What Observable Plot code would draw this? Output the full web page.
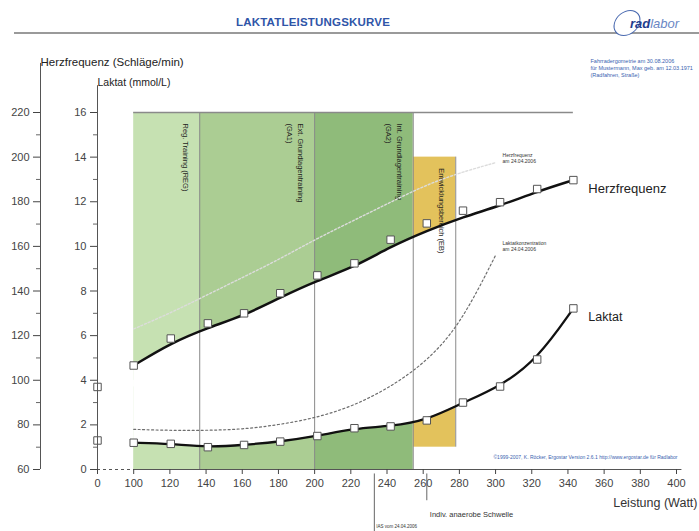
<!DOCTYPE html>
<html>
<head>
<meta charset="utf-8">
<script src="https://cdn.jsdelivr.net/npm/d3@7"></script>
<script src="https://cdn.jsdelivr.net/npm/@observablehq/plot@0.6"></script>
<style>
  body { margin: 0; background: #fff; font-family: "Liberation Sans", Arial, sans-serif; }
  #header { position: relative; width: 699px; height: 40px; }
  #title { position: absolute; left: 0; width: 626px; top: 16px; text-align: center;
           font-size: 11.5px; font-weight: bold; color: #2f55a8; letter-spacing: 0.2px; }
  #rule { position: absolute; left: 14px; right: 0; top: 32px; height: 1.5px; background: #9a9a9a; }
  #logo-ring { position: absolute; left: 614px; top: 10px; width: 24px; height: 24px;
               border: 1.3px solid #4a6ab0; border-radius: 50%; transform: skewX(-15deg); background: #fff; }
  #logo { position: absolute; left: 630px; top: 16px; font-size: 13px; font-style: italic; color: #6a86c4; }
  #logo b { color: #1f3c8c; }
  #chart svg { display: block; }
</style>
</head>
<body>
<div id="header">
  <div id="title">LAKTATLEISTUNGSKURVE</div>
  <div id="rule"></div>
  <div id="logo-ring"></div>
  <div id="logo"><b>rad</b>labor</div>
</div>
<div id="chart"></div>
<script>
// ---- data ----
// current test (30.08.2006)
const watts      = [100, 120.5, 141, 161, 181, 201.5, 222, 242, 262, 282, 302.5, 323, 343];
const heartRate  = [106.6, 118.7, 125.5, 130, 139, 147, 152.4, 163, 170.3, 176, 179.8, 185.7, 189.7];
const lactate    = [1.2, 1.15, 1.0, 1.1, 1.25, 1.5, 1.85, 1.93, 2.2, 3.0, 3.72, 4.93, 7.22];
const restWatt = 0;
const restHeartRate = 97;
const restLactate = 1.3;

// previous test (24.04.2006)
const prevWatts     = [100, 120, 140, 160, 180, 200, 220, 240, 260, 280, 300];
const prevHeartRate = [123, 130, 138, 146, 154, 163, 171, 179, 187, 193, 197.5];
const prevLactate   = [1.8, 1.75, 1.75, 1.8, 2.0, 2.3, 2.8, 3.6, 4.7, 6.4, 9.6];

// training zones
const zoneNames  = ["Reg. Training (REG)", "Ext. Grundlagentraining\n(GA1)", "Int. Grundlagentraining\n(GA2)", "Entwicklungsbereich (EB)"];
const zoneStart  = [100, 136.5, 200, 254.5];
const zoneEnd    = [136.5, 200, 254.5, 278];
const zoneLow    = [0, 0, 0, 1];     // mmol/L
const zoneHigh   = [16, 16, 16, 14]; // mmol/L

// thresholds
const thresholdWatt = [262];      // indiv. anaerobe Schwelle
const prevThresholdWatt = [233];  // IAS vom 24.04.2006

// axes
const wattTicks = [0, 100, 120, 140, 160, 180, 200, 220, 240, 260, 280, 300, 320, 340, 360, 380, 400];
const lactateTicks = [0, 2, 4, 6, 8, 10, 12, 14, 16];
const heartRateTicks = [60, 80, 100, 120, 140, 160, 180, 200, 220];

// ---- helpers: heart-rate axis (60–220) shares the lactate axis (0–16) ----
const toLac = hr => (hr - 60) / 10;
const fromLac = l => 60 + 10 * l;
const pos = w => (w === 0 ? 80 : w); // broken axis: 0 W shown at the 80 slot
const split = 4; // layer split between lower (lactate) and upper (heart-rate) zone parts

// smoothing curve for the heart-rate fit (bundle, made usable for areas too)
function smoothCurve(beta) {
  return context => {
    const c = d3.curveBundle.beta(beta)(context);
    c.areaStart = function () { this._basis._line = 0; };
    c.areaEnd = function () { this._basis._line = NaN; };
    return c;
  };
}
const hrCurve = smoothCurve(0.6);

const current = watts.map((w, i) => ({w, hr: toLac(heartRate[i]), lac: lactate[i]}));
const rest = [{w: pos(restWatt), hr: toLac(restHeartRate), lac: restLactate}];
const previous = prevWatts.map((w, i) => ({w, hr: toLac(prevHeartRate[i]), lac: prevLactate[i]}));
const zones = zoneNames.map((name, i) => ({name, start: zoneStart[i], end: zoneEnd[i], low: zoneLow[i], high: zoneHigh[i]}));

const minor = d3.range(1, 16, 2);
const font = "Liberation Sans, Arial, sans-serif";

const chart = Plot.plot({
  width: 699,
  height: 491,
  marginLeft: 97,
  marginRight: 23,
  marginTop: 72,
  marginBottom: 62,
  style: {fontFamily: font, background: "transparent", overflow: "visible"},
  x: {domain: [80, 400], label: null, axis: null},
  y: {domain: [0, 16], label: null, axis: null},
  color: {domain: zoneNames, range: ["#c6e1b2", "#abcd93", "#8fbb7a", "#e3c25c"]},
  marks: [
    // lower zone parts, cut by the lactate curve
    Plot.rect(zones, {x1: "start", x2: "end", y1: "low", y2: () => split, fill: "name"}),
    Plot.areaY(current, {x: "w", y1: "lac", y2: () => split, fill: "white", curve: "basis"}),
    // upper zone parts, cut by the heart-rate curve
    Plot.rect(zones, {x1: "start", x2: "end", y1: () => split, y2: "high", fill: "name"}),
    Plot.areaY(current, {x: "w", y1: () => split - 0.3, y2: "hr", fill: "white", curve: hrCurve}),
    // zone dividers
    Plot.ruleX(zones, {x: "end", y1: "low", y2: "high", stroke: "#8a8a8a", strokeWidth: 1}),
    // top line of the zone block
    Plot.ruleY([16], {x1: zoneStart[0], x2: d3.max(watts), stroke: "#8a8a8a", strokeWidth: 1.5}),
    // zone labels
    Plot.text(zones, {x: "end", y: "high", text: "name", rotate: 90, textAnchor: "start", lineAnchor: "top",
      dx: -9, dy: 11, fontSize: 7.5, lineHeight: 1.45, fill: "#1e1e1e"}),
    // previous test curves (dotted)
    Plot.line(previous, {x: "w", y: "hr", curve: "basis", stroke: "#dcdcdc", strokeWidth: 1.4, strokeDasharray: "2,2"}),
    Plot.line(previous, {x: "w", y: "lac", curve: "basis", stroke: "#6e6e6e", strokeWidth: 1.2, strokeDasharray: "2,2.5"}),
    Plot.text(previous, Plot.selectLast({x: "w", y: "hr", text: () => "Herzfrequenz\nam 24.04.2006",
      dx: 7, dy: -5, textAnchor: "start", fontSize: 5, lineHeight: 1.2, fill: "#333"})),
    Plot.text(previous, Plot.selectLast({x: "w", y: "lac", text: () => "Laktatkonzentration\nam 24.04.2006",
      dx: 7, dy: -9, textAnchor: "start", fontSize: 5, lineHeight: 1.2, fill: "#333"})),
    // current test curves
    Plot.line(current, {x: "w", y: "hr", stroke: "#111", strokeWidth: 2.5, curve: hrCurve}),
    Plot.line(current, {x: "w", y: "lac", curve: "basis", stroke: "#111", strokeWidth: 2.3}),
    Plot.dot(current, {x: "w", y: "hr", symbol: "square", r: 4.2, fill: "white", stroke: "#555", strokeWidth: 1}),
    Plot.dot(current, {x: "w", y: "lac", symbol: "square", r: 4.2, fill: "white", stroke: "#555", strokeWidth: 1}),
    Plot.dot(rest, {x: "w", y: "hr", symbol: "square", r: 4.2, fill: "white", stroke: "#555", strokeWidth: 1}),
    Plot.dot(rest, {x: "w", y: "lac", symbol: "square", r: 4.2, fill: "white", stroke: "#555", strokeWidth: 1}),
    Plot.text(current, Plot.selectLast({x: "w", y: "hr", text: () => "Herzfrequenz", dx: 15, dy: 9,
      textAnchor: "start", fontSize: 13, fill: "#222"})),
    Plot.text(current, Plot.selectLast({x: "w", y: "lac", text: () => "Laktat", dx: 15, dy: 9,
      textAnchor: "start", fontSize: 12.5, fill: "#222"})),

    // x axis
    Plot.ruleY([0], {x1: pos(wattTicks[0]), x2: wattTicks[1], stroke: "#555", strokeDasharray: "3,3"}),
    Plot.ruleY([0], {x1: wattTicks[1], x2: d3.max(wattTicks) + 3, stroke: "#555"}),
    Plot.axisX({ticks: wattTicks.map(pos), tickFormat: d => (d === 80 ? "0" : String(d)), tickSize: 5,
      tickPadding: 5, fontSize: 11, color: "#444", label: null}),
    Plot.text(["Leistung (Watt)"], {frameAnchor: "bottom-right", dx: 21, dy: 37, textAnchor: "end",
      fontSize: 12.5, fill: "#333"}),

    // lactate axis (inner)
    Plot.ruleX([pos(0)], {y1: 0, y2: 17.2, stroke: "#555"}),
    Plot.axisY({ticks: lactateTicks, tickSize: 7, tickPadding: 4, fontSize: 11, color: "#444", label: null}),
    Plot.axisY({ticks: minor, tickSize: 4, tickFormat: () => "", color: "#666", label: null}),
    Plot.text(["Laktat (mmol/L)"], {frameAnchor: "top-left", dx: 0, dy: -34, textAnchor: "start",
      fontSize: 10.5, fill: "#222"}),

    // heart-rate axis (outer)
    Plot.ruleX([pos(0)], {y1: 0, y2: 18.2, dx: -57, stroke: "#555"}),
    Plot.axisY({ticks: heartRateTicks.map(toLac), tickFormat: d => String(Math.round(fromLac(d))), dx: -57,
      tickSize: 7, tickPadding: 4, fontSize: 11, color: "#444", label: null}),
    Plot.axisY({ticks: minor, tickSize: 4, tickFormat: () => "", dx: -57, color: "#666", label: null}),
    Plot.text(["Herzfrequenz (Schläge/min)"], {frameAnchor: "top-left", dx: -57, dy: -55, textAnchor: "start",
      fontSize: 11.5, fill: "#222"}),

    // thresholds below the axis
    Plot.ruleX(thresholdWatt, {y1: -0.2, y2: -1.4, stroke: "#666"}),
    Plot.text(thresholdWatt, {x: d => d, frameAnchor: "bottom", dx: 3, dy: 47, textAnchor: "start",
      text: () => "Indiv. anaerobe Schwelle", fontSize: 7.5, fill: "#333"}),
    Plot.ruleX(prevThresholdWatt, {y1: -0.2, y2: -2.8, stroke: "#666"}),
    Plot.text(prevThresholdWatt, {x: d => d, frameAnchor: "bottom", dx: 2, dy: 58, textAnchor: "start",
      text: () => "IAS vom 24.04.2006", fontSize: 4.5, fill: "#333"}),

    // info texts
    Plot.text(["Fahrradergometrie am 30.08.2006\nfür Mustermann, Max geb. am 12.03.1971\n(Radfahren, Straße)"],
      {frameAnchor: "top-right", dx: -86, dy: -55, textAnchor: "start", lineAnchor: "top", fontSize: 5.5,
       lineHeight: 1.3, fill: "#3a5fb0"}),
    Plot.text(["©1999-2007, K. Röcker, Ergostar Version 2.6.1 http://www.ergostar.de für Radlabor"],
      {frameAnchor: "bottom-right", dx: 1, dy: -11, textAnchor: "end", fontSize: 5, fill: "#3a5fb0"})
  ]
});
document.getElementById("chart").append(chart);
</script>
</body>
</html>
